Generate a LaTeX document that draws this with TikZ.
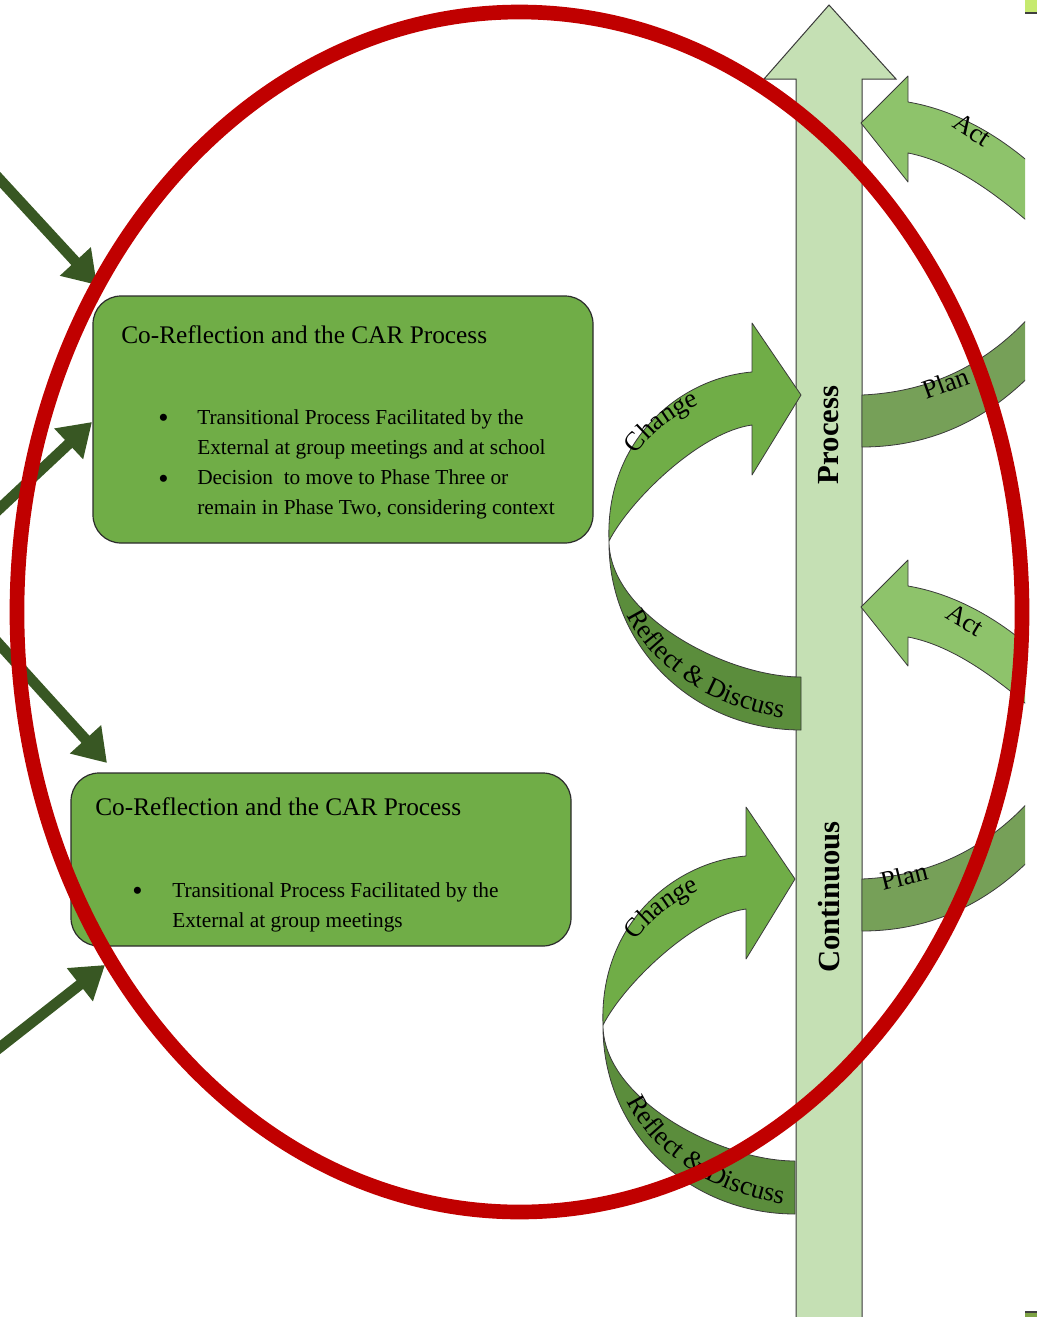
\documentclass[tikz,border=0pt]{standalone}
\usepackage{fontspec}
\setmainfont{Liberation Serif}
\usetikzlibrary{arrows.meta,decorations.text}
\definecolor{shaftc}{HTML}{C5E0B4}
\definecolor{edgec}{HTML}{3A3A3A}
\definecolor{boxc}{HTML}{70AD47}
\definecolor{boxedge}{HTML}{2B2B2B}
\definecolor{chgc}{HTML}{70AD47}
\definecolor{reflc}{HTML}{5B8D3C}
\definecolor{actc}{HTML}{8EC36B}
\definecolor{planc}{HTML}{76A058}
\definecolor{arrc}{HTML}{385723}
\definecolor{redc}{HTML}{C00000}
\definecolor{limec}{HTML}{C6EA6F}
\definecolor{cornerdark}{HTML}{3F3F3F}
\definecolor{botc}{HTML}{7EA345}
\newcommand\lblf{\fontsize{20}{24}\selectfont}
\begin{document}
\begin{tikzpicture}[x=0.75pt,y=-0.75pt,
  rib/.style={draw=edgec, line width=0.6pt, line join=round},
  box/.style={draw=boxedge, fill=boxc, rounded corners=21pt, line width=0.9pt, minimum width=375pt, inner sep=0pt},
  ttl/.style={anchor=base west, font=\fontsize{19}{23}\selectfont, inner sep=0pt},
  itm/.style={anchor=base west, font=\fontsize{16}{20}\selectfont, inner sep=0pt},
  bul/.style={anchor=base west, font=\fontsize{22}{22}\selectfont, inner sep=0pt},
  conn/.style={draw=arrc, line width=8pt, -{Triangle[length=24pt,width=30pt]}},
  lbl/.style={font=\lblf, inner sep=0pt},
  shaftlbl/.style={font=\fontsize{23}{28}\selectfont\bfseries, rotate=90, inner sep=0pt}]
\useasboundingbox (0,0) rectangle (1037,1317);
\clip (0,0) rectangle (1037,1317);

% central shaft arrow
\draw[draw=edgec, fill=shaftc, line width=0.75pt] (796,1330) -- (796,79) -- (764,79) -- (829,5) -- (896,79) -- (862,79) -- (862,1330);
\node[shaftlbl] (proc) at (829,435) {Process};
\node[shaftlbl] (cont) at (829,897) {Continuous};

% left twisted arrows
\foreach \dx/\dy in {0/0,-6/484}{
\begin{scope}[shift={(\dx,\dy)}]
\draw[rib, fill=reflc] (609,541) .. controls (608,647) and (694,730) .. (801,730) -- (801,677) .. controls (726,677) and (609,615) .. (609,541) -- cycle;
\draw[rib, fill=chgc] (609,541) .. controls (605,440) and (680,378) .. (752,372) -- (752,323) -- (801,395) -- (752,475) -- (752,425) .. controls (700,432) and (630,500) .. (609,541) -- cycle;
\end{scope}
}
\foreach \dx/\dy in {0/0,0/486}{
\begin{scope}[shift={(\dx,\dy)}]
\path[decorate, decoration={text along path, text align=center, text={|\lblf|Change}}] (618,505) .. controls (622,440) and (690,398) .. (752,390);
\path[decorate, decoration={text along path, text align=center, text={|\lblf|Reflect {\&} Discuss}}] (620,597) .. controls (642,668) and (722,714) .. (802,720);
\end{scope}
}

% right arrows (cropped)
\begin{scope}
\clip (850,0) rectangle (1025,1317);
\foreach \dy in {0,484}{
\begin{scope}[shift={(0,\dy)}]
\draw[rib, fill=planc] (862,395) .. controls (930,392) and (990,365) .. (1040,305) -- (1040,365) .. controls (990,420) and (930,447) .. (862,447) -- cycle;
\draw[rib, fill=actc] (861,123) -- (908,76) -- (908,102) .. controls (955,110) and (1000,135) .. (1040,172) -- (1040,232) .. controls (1000,197) and (955,162) .. (908,153) -- (908,182) -- cycle;
\end{scope}
}
\end{scope}
\node[lbl, rotate=20] (plan1) at (946,383) {Plan};
\node[lbl, rotate=14] (plan2) at (904,876) {Plan};
\node[lbl, rotate=-33] (act1) at (972,130) {Act};
\node[lbl, rotate=-31] (act2) at (965,620) {Act};

% left connectors
\coordinate (a1s) at (-20,158);  \coordinate (a1e) at (97,285);
\coordinate (a2s) at (-20,527);  \coordinate (a2e) at (92,422);
\coordinate (a3s) at (-20,623);  \coordinate (a3e) at (107,763);
\coordinate (a4s) at (-20,1063); \coordinate (a4e) at (105,965);
\draw[conn] (a1s) -- (a1e);
\draw[conn] (a2s) -- (a2e);
\draw[conn] (a3s) -- (a3e);
\draw[conn] (a4s) -- (a4e);

% boxes
\node[box, minimum height=185.25pt] (box1) at (343,419.5) {};
\node[box, minimum height=129.75pt] (box2) at (321,859.5) {};
\node[ttl] (t1) at (121,343) {Co-Reflection and the CAR Process};
\node[bul] (b1a) at (158,427) {\textbullet};
\node[itm] (l1a) at (197,424) {Transitional Process Facilitated by the};
\node[itm] (l1b) at (197,454) {External at group meetings and at school};
\node[bul] (b1b) at (158,488) {\textbullet};
\node[itm] (l1c) at (197,484) {Decision\ \ to move to Phase Three or};
\node[itm] (l1d) at (197,514) {remain in Phase Two, considering context};
\node[ttl] (t2) at (95,815) {Co-Reflection and the CAR Process};
\node[bul] (b2a) at (132,900) {\textbullet};
\node[itm] (l2a) at (172,897) {Transitional Process Facilitated by the};
\node[itm] (l2b) at (172,927) {External at group meetings};

% corner fragments
\fill[limec] (1025,0) rectangle (1037,12);
\fill[cornerdark] (1025,12) rectangle (1037,14);
\fill[cornerdark] (1025,1310.5) rectangle (1037,1312.5);
\fill[botc] (1025,1312.5) rectangle (1037,1317);

% red ellipse
\draw[draw=redc, line width=11pt] (519.5,612) ellipse [x radius=376.9pt, y radius=450pt];
\end{tikzpicture}
\end{document}
